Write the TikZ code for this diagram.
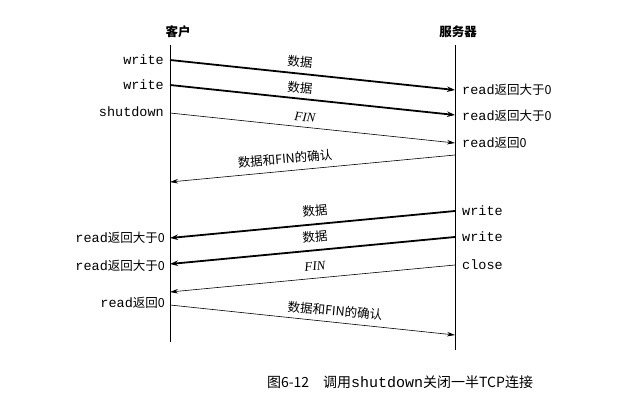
\documentclass[tikz,border=0pt]{standalone}
\usepackage{fontspec}
\setmainfont{Liberation Serif}
\newfontfamily\cjk{Noto Sans CJK SC}
\setmonofont{Liberation Mono}
\usetikzlibrary{arrows.meta}
\begin{document}
\begin{tikzpicture}[x=1pt,y=-1pt,
  thk/.style={line width=1.8pt,-{Stealth[length=8pt,width=5.5pt]}},
  thn/.style={line width=0.6pt,-{Stealth[length=8pt,width=4.5pt]}},
  lab/.style={font=\cjk\fontsize{12.5}{14}\selectfont,inner sep=1pt},
  tt/.style={font=\ttfamily\fontsize{13.5}{14}\selectfont,inner sep=1pt}]
\useasboundingbox (0,0) rectangle (627,407);
\draw[line width=0.6pt] (170,45) -- (170,342);
\draw[line width=0.6pt] (455,45) -- (455,350);
\node[lab,font=\cjk\bfseries\fontsize{12.5}{14}\selectfont] (c) at (178,32) {客户};
\node[lab,font=\cjk\bfseries\fontsize{12.5}{14}\selectfont] (s) at (458,32) {服务器};
\coordinate (a1) at (170,60); \coordinate (b1) at (455,90);
\coordinate (a2) at (170,85); \coordinate (b2) at (455,115);
\coordinate (a3) at (170,113); \coordinate (b3) at (455,143);
\coordinate (a4) at (455,155); \coordinate (b4) at (170,182);
\coordinate (a5) at (455,211); \coordinate (b5) at (170,238);
\coordinate (a6) at (455,237); \coordinate (b6) at (170,264);
\coordinate (a7) at (455,265); \coordinate (b7) at (170,292);
\coordinate (a8) at (170,305); \coordinate (b8) at (455,335);
\draw[thk] (a1) -- (b1); \node[lab,rotate=-5] at (300,62) {数据};
\draw[thk] (a2) -- (b2); \node[lab,rotate=-5] at (300,88) {数据};
\draw[thn] (a3) -- (b3); \node[lab,rotate=-5,font=\itshape\fontsize{13}{14}\selectfont] at (305,117) {FIN};
\draw[thn] (a4) -- (b4); \node[lab,rotate=5] at (285,159) {数据和FIN的确认};
\draw[thk] (a5) -- (b5); \node[lab,rotate=5] at (315,211) {数据};
\draw[thk] (a6) -- (b6); \node[lab,rotate=5] at (315,237) {数据};
\draw[thn] (a7) -- (b7); \node[lab,rotate=5,font=\itshape\fontsize{13}{14}\selectfont] at (315,266) {FIN};
\draw[thn] (a8) -- (b8); \node[lab,rotate=-5] at (335,311) {数据和FIN的确认};
\node[tt,anchor=east] at (165,60) {write};
\node[tt,anchor=east] at (165,85) {write};
\node[tt,anchor=east] at (165,112) {shutdown};
\node[lab,anchor=east] at (166,238) {{\ttfamily\fontsize{13.5}{14}\selectfont read}返回大于0};
\node[lab,anchor=east] at (166,266) {{\ttfamily\fontsize{13.5}{14}\selectfont read}返回大于0};
\node[lab,anchor=east] at (166,303) {{\ttfamily\fontsize{13.5}{14}\selectfont read}返回0};
\node[lab,anchor=west] at (461,90) {{\ttfamily\fontsize{13.5}{14}\selectfont read}返回大于0};
\node[lab,anchor=west] at (461,116) {{\ttfamily\fontsize{13.5}{14}\selectfont read}返回大于0};
\node[lab,anchor=west] at (461,143) {{\ttfamily\fontsize{13.5}{14}\selectfont read}返回0};
\node[tt,anchor=west] at (461,211) {write};
\node[tt,anchor=west] at (461,237) {write};
\node[tt,anchor=west] at (461,265) {close};
\node[lab,font=\cjk\fontsize{14}{16}\selectfont] at (400,382) {图6-12\quad 调用{\ttfamily\fontsize{15}{16}\selectfont shutdown}关闭一半TCP连接};
\end{tikzpicture}
\end{document}
